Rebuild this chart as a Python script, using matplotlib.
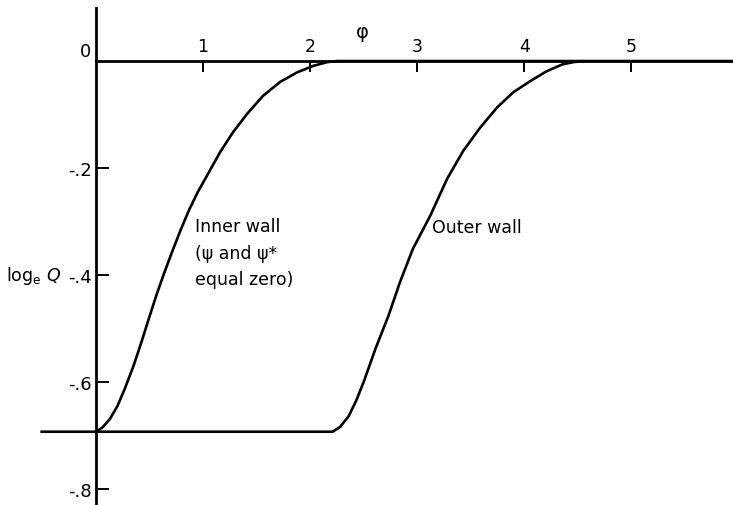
import matplotlib
matplotlib.use("Agg")
import matplotlib.pyplot as plt

plt.rcParams['font.family'] = ['DejaVu Sans']

# values
inner_phi = [0.00, 0.06, 0.13, 0.20, 0.27, 0.35, 0.42, 0.48, 0.56, 0.63, 0.71,
             0.79, 0.87, 0.95, 1.04, 1.16, 1.28, 1.41, 1.56, 1.72, 1.88, 2.03,
             2.16, 2.25, 5.95]
inner_logq = [-0.693, -0.685, -0.669, -0.645, -0.612, -0.570, -0.528, -0.490,
              -0.440, -0.400, -0.357, -0.316, -0.278, -0.245, -0.213, -0.170,
              -0.133, -0.099, -0.065, -0.039, -0.021, -0.009, -0.002, 0.0, 0.0]

outer_phi = [-0.52, 2.21, 2.28, 2.36, 2.43, 2.50, 2.61, 2.73, 2.84, 2.96, 3.12,
             3.28, 3.43, 3.59, 3.75, 3.90, 4.06, 4.21, 4.36, 4.46, 4.55]
outer_logq = [-0.693, -0.693, -0.684, -0.664, -0.635, -0.600, -0.538, -0.477,
              -0.413, -0.351, -0.290, -0.220, -0.168, -0.124, -0.086, -0.058,
              -0.037, -0.019, -0.006, -0.002, 0.0]

x_ticks = [1, 2, 3, 4, 5]
x_labels = ['1', '2', '3', '4', '5']
y_ticks = [-0.2, -0.4, -0.6, -0.8]
y_labels = ['-.2', '-.4', '-.6', '-.8']

fig = plt.figure(figsize=(7.33, 5.06), dpi=100)
ax = fig.add_axes([0, 0, 1, 1])
ax.set_xlim(-0.897, 5.95)
ax.set_ylim(-0.830, 0.116)

ax.plot(inner_phi, inner_logq, color='black', lw=1.9, solid_capstyle='butt')
ax.plot(outer_phi, outer_logq, color='black', lw=1.9, solid_capstyle='butt')

# axes drawn through the origin
ax.spines['right'].set_visible(False)
ax.spines['bottom'].set_visible(False)
ax.spines['left'].set_position(('data', 0))
ax.spines['left'].set_bounds(-0.83, 0.10)
ax.spines['top'].set_position(('data', 0))
ax.spines['top'].set_bounds(0, 5.95)
for s in ['left', 'top']:
    ax.spines[s].set_linewidth(2.0)

ax.xaxis.tick_top()
ax.set_xticks(x_ticks)
ax.set_xticklabels(x_labels)
ax.tick_params(axis='x', direction='in', length=8, width=1.4, pad=4, labelsize=12.5)
ax.set_yticks(y_ticks)
ax.set_yticklabels(y_labels)
ax.tick_params(axis='y', direction='in', length=9, width=1.4, pad=3, labelsize=13)

ax.text(-0.10, 0.019, '0', fontsize=13, ha='center', va='center')
ax.text(2.49, 0.056, 'φ', fontsize=14, ha='center', va='center')
ax.text(-0.33, -0.4, r'log$_\mathregular{e}$ $Q$', fontsize=12.5, ha='right', va='center')

ax.text(0.925, -0.308, 'Inner wall', fontsize=12.5, ha='left', va='center')
ax.text(0.925, -0.359, '(ψ and ψ*', fontsize=12.5, ha='left', va='center')
ax.text(0.925, -0.407, 'equal zero)', fontsize=12.5, ha='left', va='center')
ax.text(3.14, -0.310, 'Outer wall', fontsize=12.5, ha='left', va='center')

fig.savefig('out.png', dpi=100)
